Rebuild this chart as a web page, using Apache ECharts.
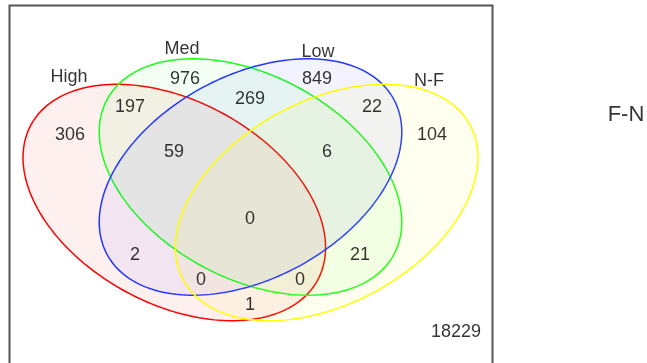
<!DOCTYPE html>
<html>
<head>
<meta charset="utf-8">
<script src="https://cdn.jsdelivr.net/npm/echarts@6/dist/echarts.min.js"></script>
<style>
  html, body { margin: 0; padding: 0; background: #fff; }
  #chart { width: 647px; height: 363px; }
</style>
</head>
<body>
<div id="chart"></div>
<script>
// Set names and their colours
const setNames = ['High', 'Med', 'Low', 'N-F'];
const setColors = ['#ff0000', '#1aff1a', '#2238ff', '#ffff00'];

// Region counts (membership: H=High, M=Med, L=Low, F=N-F)
const regionKeys   = ['H', 'M', 'L', 'F', 'HM', 'ML', 'LF', 'HML', 'MLF', 'HMLF', 'HL', 'MF', 'HLF', 'HMF', 'HF', 'none'];
const regionCounts = [306, 976, 849, 104, 197, 269, 22, 59, 6, 0, 2, 21, 0, 0, 1, 18229];

// Diagram title on the right
const sideTitle = 'F-N';

// ---- layout (diagram units, y grows downward) ----
const ellipseShape = { a: 163, b: 101.5, tilt: 28.4 };
const ellipseLayout = [
  { cx: 174.3, cy: 202.5, dir: 1 },
  { cx: 250.5, cy: 177.0, dir: 1 },
  { cx: 250.5, cy: 177.0, dir: -1 },
  { cx: 326.7, cy: 202.5, dir: -1 }
];
const regionAnchors = {
  H: [70, 135], M: [185, 79], L: [317, 79], F: [432, 135],
  HM: [130, 107], ML: [250, 99], LF: [372, 107],
  HML: [174, 152], MLF: [327, 152], HMLF: [250, 219],
  HL: [135, 255], MF: [360, 255], HLF: [201, 280], HMF: [300, 280],
  HF: [250, 305], none: [456, 332]
};
const setNameAnchors = [[69, 77], [182, 49], [318, 52], [429, 81]];
const sideTitleAnchor = [626, 115];

function ellipsePoints(e) {
  const t = ellipseShape.tilt * Math.PI / 180 * e.dir;
  const pts = [];
  for (let i = 0; i < 180; i++) {
    const u = i / 180 * Math.PI * 2;
    const x = ellipseShape.a * Math.cos(u), y = ellipseShape.b * Math.sin(u);
    pts.push([e.cx + x * Math.cos(t) - y * Math.sin(t), e.cy + x * Math.sin(t) + y * Math.cos(t)]);
  }
  return pts;
}

function hexToRgba(hex, a) {
  const n = parseInt(hex.slice(1), 16);
  return 'rgba(' + (n >> 16 & 255) + ',' + (n >> 8 & 255) + ',' + (n & 255) + ',' + a + ')';
}

const chart = echarts.init(document.getElementById('chart'), null, { renderer: 'canvas' });

const textFont = '"Liberation Sans", Arial, sans-serif';

const option = {
  animation: false,
  backgroundColor: '#ffffff',
  grid: { left: 0, right: 0, top: 0, bottom: 0 },
  xAxis: { type: 'value', min: 0, max: 647, show: false },
  yAxis: { type: 'value', min: 0, max: 363, inverse: true, show: false },
  graphic: [{
    type: 'rect',
    shape: { x: 9.5, y: 5.5, width: 483, height: 420 },
    style: { fill: 'none', stroke: '#555555', lineWidth: 2 },
    z: 0
  }],
  series: [
    {
      type: 'custom',
      coordinateSystem: 'cartesian2d',
      data: setNames.map((n, i) => [i]),
      renderItem: function (params, api) {
        const i = api.value(0);
        const pts = ellipsePoints(ellipseLayout[i]).map(p => api.coord(p));
        return {
          type: 'polygon',
          shape: { points: pts },
          style: { fill: hexToRgba(setColors[i], 0.06), stroke: setColors[i], lineWidth: 1.5 }
        };
      },
      z: 2,
      silent: true
    },
    {
      type: 'scatter',
      symbolSize: 0,
      data: regionKeys.map((k, i) => ({ value: [regionAnchors[k][0], regionAnchors[k][1], regionCounts[i]] })),
      label: {
        show: true, position: 'inside',
        formatter: p => String(p.value[2]),
        color: '#000', fontSize: 18, fontFamily: textFont
      },
      z: 5, silent: true
    },
    {
      type: 'scatter',
      symbolSize: 0,
      data: setNames.map((n, i) => ({ value: setNameAnchors[i], name: n })),
      label: {
        show: true, position: 'inside',
        formatter: p => p.name,
        color: '#000', fontSize: 18, fontFamily: textFont
      },
      z: 5, silent: true
    },
    {
      type: 'scatter',
      symbolSize: 0,
      data: [{ value: sideTitleAnchor, name: sideTitle }],
      label: {
        show: true, position: 'inside',
        formatter: p => p.name,
        color: '#000', fontSize: 22, fontFamily: textFont
      },
      z: 5, silent: true
    }
  ]
};
chart.setOption(option);
</script>
</body>
</html>
